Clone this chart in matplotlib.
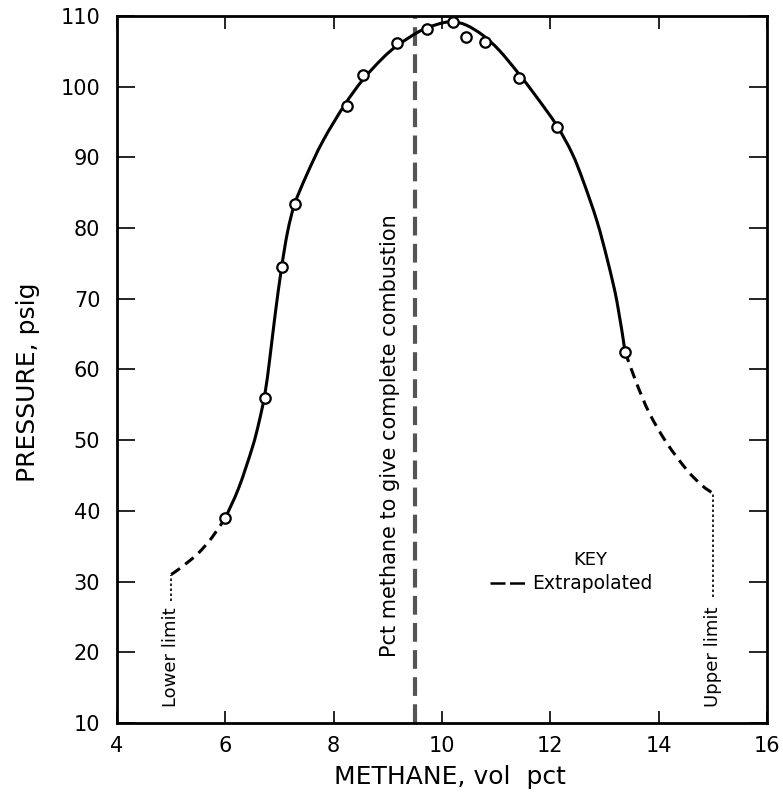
import matplotlib
matplotlib.use("Agg")
import matplotlib.pyplot as plt
from matplotlib.path import Path
from matplotlib.patches import PathPatch

# Measured data points (open circles)
pts_x = [6.0, 6.73, 7.04, 7.28, 8.24, 8.54, 9.17, 9.72, 10.2, 10.44, 10.79, 11.42, 12.12, 13.38]
pts_y = [39.0, 56.0, 74.5, 83.4, 97.3, 101.7, 106.2, 108.2, 109.2, 107.0, 106.3, 101.2, 94.3, 62.5]

# Traced smooth (solid) curve
curve_x = [6.0, 6.25, 6.5, 6.62, 6.73, 6.82, 6.92, 7.04, 7.15, 7.28, 7.5, 7.8, 8.2, 8.54,
           8.9, 9.17, 9.53, 9.75, 10.0, 10.2, 10.45, 10.75, 11.05, 11.4, 11.75, 12.12,
           12.4, 12.6, 12.86, 13.06, 13.23, 13.38]
curve_y = [39.0, 43.3, 49.0, 52.5, 56.5, 61.5, 67.8, 74.5, 79.5, 83.4, 87.5, 92.3, 97.4, 101.0,
           104.0, 105.8, 107.6, 108.4, 109.0, 109.2, 108.7, 107.3, 105.2, 102.0, 98.5, 94.5,
           90.6, 86.8, 81.0, 75.3, 69.6, 62.5]

# Extrapolated (dashed) parts
ext_left_x = [5.0, 5.15, 5.3, 5.5, 5.75, 6.0]
ext_left_y = [31.0, 31.8, 32.7, 34.0, 36.2, 39.0]
ext_right_x = [13.38, 13.59, 13.83, 14.15, 14.52, 14.8, 15.0]
ext_right_y = [62.5, 58.1, 53.8, 49.6, 45.8, 43.6, 42.5]

# Flammability limits and stoichiometric mixture
lower_limit = 5.0
upper_limit = 15.0
stoich = 9.5

x_ticks = [4, 6, 8, 10, 12, 14, 16]
y_ticks = [10, 20, 30, 40, 50, 60, 70, 80, 90, 100, 110]


def smooth_path(xs, ys):
    """Catmull-Rom curve through the traced points, as cubic Bezier segments."""
    pts = list(zip(xs, ys))
    n = len(pts)
    verts = [pts[0]]
    codes = [Path.MOVETO]
    for i in range(n - 1):
        p0 = pts[i - 1] if i > 0 else pts[i]
        p1 = pts[i]
        p2 = pts[i + 1]
        p3 = pts[i + 2] if i + 2 < n else pts[i + 1]
        c1 = (p1[0] + (p2[0] - p0[0]) / 6, p1[1] + (p2[1] - p0[1]) / 6)
        c2 = (p2[0] - (p3[0] - p1[0]) / 6, p2[1] - (p3[1] - p1[1]) / 6)
        verts += [c1, c2, p2]
        codes += [Path.CURVE4] * 3
    return Path(verts, codes)


fig = plt.figure(figsize=(7.83, 7.96), dpi=100)
ax = fig.add_axes([117/783, 1-723/796, (767-117)/783, (723-16)/796])

ax.set_xlim(4, 16)
ax.set_ylim(10, 110)
ax.set_xticks(x_ticks)
ax.set_yticks(y_ticks)
ax.set_xticklabels([str(t) for t in x_ticks])
ax.set_yticklabels([str(t) for t in y_ticks])

for s in ax.spines.values():
    s.set_linewidth(2.0)

ax.tick_params(axis='x', which='both', direction='in', length=9, width=1.2,
               top=True, bottom=True, labelsize=15, pad=9)
ax.tick_params(axis='y', which='both', direction='in', length=13, width=1.2,
               left=True, right=True, labelsize=15, pad=12)

# vertical stoichiometric line
ax.plot([stoich, stoich], [10, 110], color='#555555', lw=3, dashes=(4.5, 2))

# solid curve
ax.add_patch(PathPatch(smooth_path(curve_x, curve_y), fill=False, edgecolor='black',
                       lw=2.2, zorder=3))
# extrapolated
ax.add_patch(PathPatch(smooth_path(ext_left_x, ext_left_y), fill=False, edgecolor='black',
                       lw=2.2, linestyle=(0, (3.5, 2.2)), zorder=3))
ax.add_patch(PathPatch(smooth_path(ext_right_x, ext_right_y), fill=False, edgecolor='black',
                       lw=2.2, linestyle=(0, (3.5, 2.2)), zorder=3))

# limit lines
ax.plot([lower_limit, lower_limit], [27.3, 31.0], color='black', lw=1.2, dashes=(1.5, 1.5))
ax.plot([upper_limit, upper_limit], [27.8, 42.5], color='black', lw=1.2, dashes=(1.5, 1.5))

# data markers
ax.plot(pts_x, pts_y, linestyle='none', marker='o', markersize=7.5, mfc='white',
        mec='black', mew=1.6, zorder=4)

ax.text(lower_limit, 12.3, 'Lower limit', rotation=90, ha='center', va='bottom',
        fontsize=13)
ax.text(upper_limit, 12.3, 'Upper limit', rotation=90, ha='center', va='bottom',
        fontsize=13)
ax.text(9.04, 50.7, 'Pct methane to give complete combustion', rotation=90,
        ha='center', va='center', fontsize=15)

# key
ax.text(12.73, 33.1, 'KEY', ha='center', va='center', fontsize=13)
ax.plot([10.89, 11.53], [29.8, 29.8], color='black', lw=1.8, dashes=(6, 1.8))
ax.text(11.66, 29.8, 'Extrapolated', ha='left', va='center', fontsize=13.5)

fig.text(450/783, 1-777/796, 'METHANE, vol  pct', ha='center', va='center', fontsize=18)
fig.text(28/783, 1-382/796, 'PRESSURE, psig', ha='center', va='center', fontsize=18,
         rotation=90)

fig.savefig('out.png', dpi=100)
